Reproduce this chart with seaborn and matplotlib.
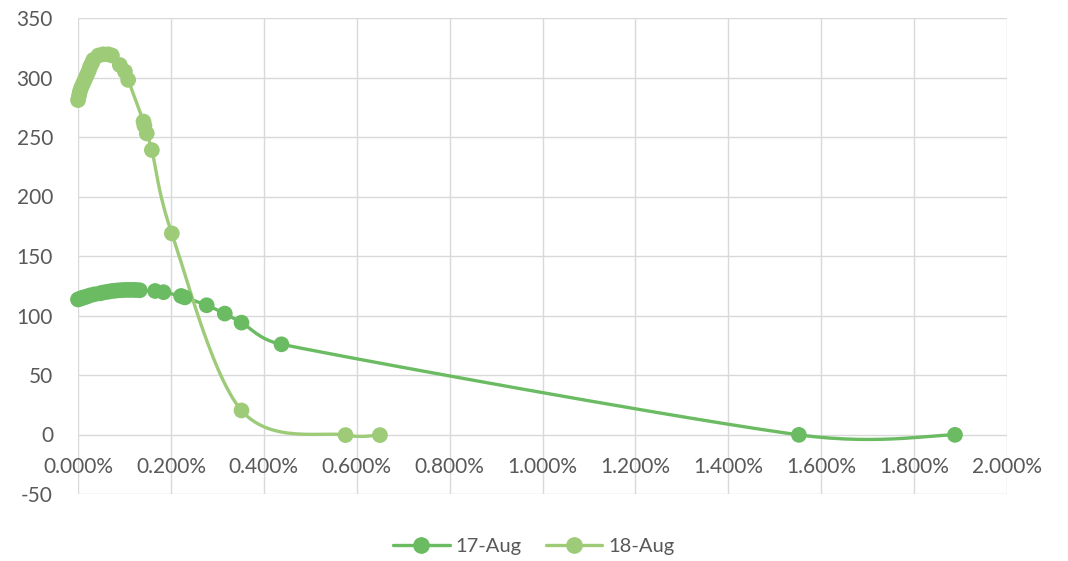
import numpy as np
import pandas as pd
import matplotlib
matplotlib.use("Agg")
import matplotlib.pyplot as plt
from matplotlib.lines import Line2D
import seaborn as sns

# ---- data (x in percent) ----
x17 = [0.000, 0.004, 0.008, 0.012, 0.018, 0.025, 0.035, 0.047, 0.054, 0.062, 0.069,
       0.076, 0.083, 0.090, 0.097, 0.104, 0.111, 0.119, 0.126, 0.133, 0.166, 0.184,
       0.222, 0.230, 0.277, 0.316, 0.352, 0.438, 1.552, 1.888]
y17 = [113.5, 114.0, 114.6, 115.2, 115.8, 116.8, 117.8, 118.6, 119.3, 119.8, 120.3,
       120.7, 121.0, 121.2, 121.4, 121.5, 121.5, 121.5, 121.4, 121.2, 120.6, 119.6,
       116.4, 115.2, 108.6, 101.6, 94.0, 75.8, -0.3, -0.3]

x18 = [0.000, 0.002, 0.004, 0.007, 0.011, 0.015, 0.019, 0.023, 0.026, 0.030, 0.033,
       0.044, 0.054, 0.065, 0.073, 0.090, 0.101, 0.108, 0.141, 0.143, 0.148, 0.159,
       0.202, 0.352, 0.576, 0.650]
y18 = [281.0, 284.5, 288.0, 291.5, 295.0, 298.5, 302.0, 305.5, 309.0, 312.0, 314.8,
       318.5, 319.5, 319.5, 318.5, 310.5, 305.0, 298.0, 263.0, 259.5, 253.0, 239.0,
       169.0, 20.2, -0.5, -0.5]

series_names = ["17-Aug", "18-Aug"]
colors = ["#6ABB62", "#9DCB78"]
x_ticks = [0.0, 0.2, 0.4, 0.6, 0.8, 1.0, 1.2, 1.4, 1.6, 1.8, 2.0]
y_ticks = [-50, 0, 50, 100, 150, 200, 250, 300, 350]

sns.set_theme(style="white")
plt.rcParams["font.family"] = ["Lato", "DejaVu Sans"]

fig = plt.figure(figsize=(10.68, 5.61), dpi=100)
ax = fig.add_axes([78 / 1068, 1 - 494 / 561, (1007 - 78) / 1068, (494 - 18) / 561])
ax.set_xlim(0, 2.0)
ax.set_ylim(-50, 350)

# pixel scales for Excel-like smoothing
SX = 929 / 2.0
SY = 476 / 400.0


def _arm(vec, seg_len):
    """Catmull-Rom arm (1/6 of the chord), limited to half the segment length."""
    v = vec / 6.0
    L = np.hypot(*v)
    lim = seg_len / 2.0
    if L > lim and L > 0:
        v = v * (lim / L)
    return v


def smooth(xs, ys, n=30):
    P = np.column_stack([np.asarray(xs, float) * SX, np.asarray(ys, float) * SY])
    out = [P[0]]
    t = np.linspace(0, 1, n)[1:, None]
    for i in range(len(P) - 1):
        p0 = P[i - 1] if i > 0 else P[i]
        p3 = P[i + 2] if i + 2 < len(P) else P[i + 1]
        seg = np.hypot(*(P[i + 1] - P[i]))
        c1 = P[i] + _arm(P[i + 1] - p0, seg)
        c2 = P[i + 1] - _arm(p3 - P[i], seg)
        b = ((1 - t) ** 3) * P[i] + 3 * ((1 - t) ** 2) * t * c1 + 3 * (1 - t) * t ** 2 * c2 + t ** 3 * P[i + 1]
        out.extend(b)
    out = np.array(out)
    return out[:, 0] / SX, out[:, 1] / SY


for xs, ys, name, c in [(x17, y17, series_names[0], colors[0]), (x18, y18, series_names[1], colors[1])]:
    sxs, sys_ = smooth(xs, ys)
    ax.plot(sxs, sys_, color=c, linewidth=2.4, zorder=3, solid_capstyle="round")
    df = pd.DataFrame({"x": xs, "y": ys})
    sns.scatterplot(data=df, x="x", y="y", ax=ax, color=c, s=128, edgecolor="none",
                    zorder=4, clip_on=False)

ax.set_xticks(x_ticks)
ax.set_yticks(y_ticks)
ax.set_xticklabels([f"{v:.3f}%" for v in x_ticks])
ax.set_yticklabels([str(v) for v in y_ticks])
ax.grid(True, color="#D9D9D9", linewidth=1.0)
ax.set_axisbelow(True)
for s in ["top", "right", "left"]:
    ax.spines[s].set_visible(False)
ax.spines["bottom"].set_position(("data", 0))
ax.spines["bottom"].set_visible(False)
ax.tick_params(axis="both", length=0, labelsize=15, labelcolor="#595959")
ax.tick_params(axis="x", pad=16)
ax.tick_params(axis="y", pad=18)
ax.set_xlabel("")
ax.set_ylabel("")

handles = [Line2D([0], [0], color=c, lw=2.4, marker="o", markersize=11) for c in colors]
leg = fig.legend(handles, series_names, loc="center", bbox_to_anchor=(0.5, 1 - 546 / 561),
                 ncol=2, frameon=False, fontsize=14.5, handlelength=2.8, columnspacing=1.2,
                 handletextpad=0.3)
for t in leg.get_texts():
    t.set_color("#595959")

fig.savefig("out.png", dpi=100)
